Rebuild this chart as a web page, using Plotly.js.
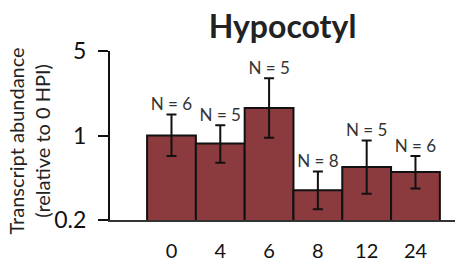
<!DOCTYPE html>
<html>
<head>
<meta charset="utf-8">
<script src="https://cdn.plot.ly/plotly-3.0.1.min.js"></script>
<style>html,body{margin:0;padding:0;background:#fff;}#chart{width:456px;height:266px;}</style>
</head>
<body>
<div id="chart"></div>
<script>
var categories = ['0', '4', '6', '8', '12', '24'];
var means = [1.0, 0.86, 1.69, 0.353, 0.55, 0.50];
var upperLimits = [1.49, 1.216, 2.98, 0.503, 0.909, 0.676];
var lowerLimits = [0.676, 0.596, 0.957, 0.246, 0.329, 0.365];
var sampleSizes = [6, 5, 5, 8, 5, 6];
var yTickValues = [0.2, 1, 5];
var yTickLabels = ['0.2', '1', '5'];
var yTitleText = 'Transcript abundance<br>(relative to 0 HPI)';

var errPlus = means.map(function (m, i) { return upperLimits[i] - m; });
var errMinus = means.map(function (m, i) { return m - lowerLimits[i]; });
var nText = sampleSizes.map(function (n) { return 'N = ' + n; });

var FONT = 'Lato, "Open Sans", sans-serif';

var bars = {
  type: 'bar',
  x: categories,
  y: means,
  marker: { color: '#8b3a3e', line: { color: '#111', width: 2 } },
  error_y: {
    type: 'data', symmetric: false,
    array: errPlus, arrayminus: errMinus,
    color: '#111', thickness: 2, width: 5
  },
  hoverinfo: 'skip',
  showlegend: false
};

var labels = {
  type: 'scatter',
  mode: 'text',
  x: categories,
  y: upperLimits,
  text: nText,
  textposition: 'top center',
  textfont: { family: FONT, size: 17, color: '#333' },
  hoverinfo: 'skip',
  showlegend: false,
  cliponaxis: false
};

var layout = {
  width: 456, height: 266,
  margin: { l: 110, r: 1, t: 51, b: 46 },
  paper_bgcolor: '#fff', plot_bgcolor: '#fff',
  bargap: 0,
  font: { family: FONT, color: '#222' },
  title: {
    text: '<b>Hypocotyl</b>',
    font: { family: FONT, size: 32, color: '#222' },
    xref: 'paper', x: 0.5, xanchor: 'center',
    yref: 'container', y: 0.9, yanchor: 'middle'
  },
  xaxis: {
    type: 'category',
    range: [-1.26, 5.81],
    showline: true, linecolor: '#333', linewidth: 2,
    ticks: '', showgrid: false, zeroline: false,
    tickfont: { family: FONT, size: 20, color: '#111' },
    ticklabelstandoff: 12
  },
  yaxis: {
    type: 'log',
    range: [Math.log10(0.2), Math.log10(5)],
    tickvals: yTickValues, ticktext: yTickLabels,
    showline: true, linecolor: '#111', linewidth: 2,
    ticks: 'outside', ticklen: 10, tickwidth: 2, tickcolor: '#111',
    showgrid: false, zeroline: false,
    tickfont: { family: FONT, size: 23, color: '#111' },
    ticklabelstandoff: 7
  },
  annotations: [{
    text: yTitleText,
    xref: 'paper', yref: 'paper',
    x: -0.235, y: 0.47,
    xanchor: 'center', yanchor: 'middle',
    textangle: -90, showarrow: false,
    font: { family: FONT, size: 20, color: '#222' }
  }]
};

Plotly.newPlot('chart', [bars, labels], layout, { displayModeBar: false, staticPlot: true });
</script>
</body>
</html>
